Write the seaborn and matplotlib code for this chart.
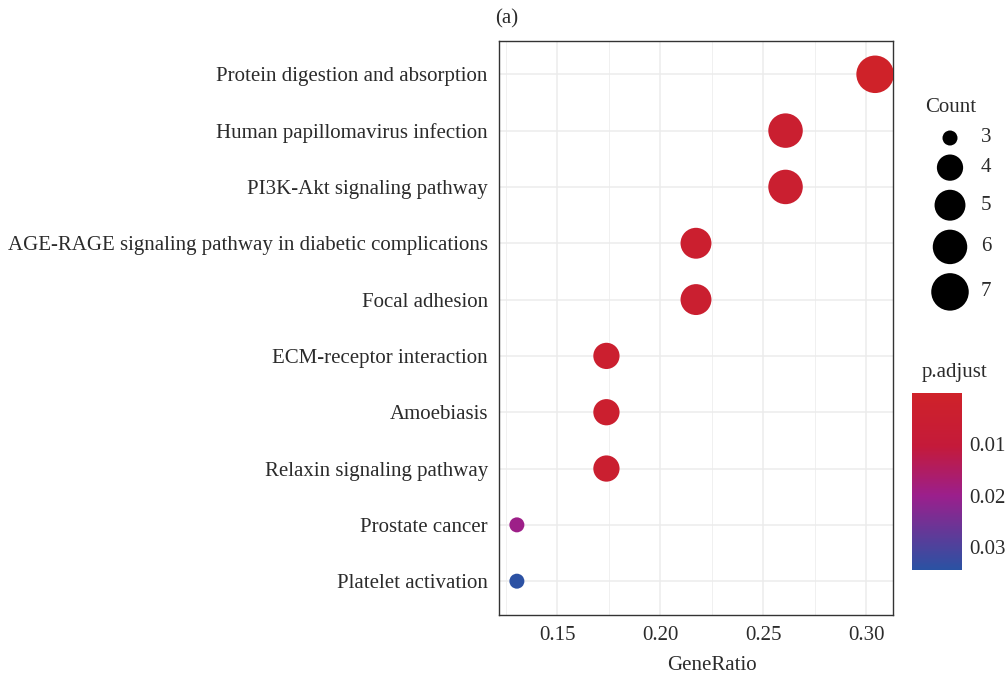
import numpy as np
import pandas as pd
import matplotlib
matplotlib.use("Agg")
import matplotlib.pyplot as plt
from matplotlib.colors import LinearSegmentedColormap, Normalize
from matplotlib.ticker import MultipleLocator
import seaborn as sns

# KEGG enrichment results
pathways = [
    "Protein digestion and absorption",
    "Human papillomavirus infection",
    "PI3K-Akt signaling pathway",
    "AGE-RAGE signaling pathway in diabetic complications",
    "Focal adhesion",
    "ECM-receptor interaction",
    "Amoebiasis",
    "Relaxin signaling pathway",
    "Prostate cancer",
    "Platelet activation",
]
counts = [7, 6, 6, 5, 5, 4, 4, 4, 3, 3]
total_genes = 23
p_adjust = [0.0002, 0.0045, 0.0045, 0.0040, 0.0045, 0.0040, 0.0040, 0.0045, 0.0195, 0.0341]
size_levels = [3, 4, 5, 6, 7]
cbar_ticks = [0.01, 0.02, 0.03]

df = pd.DataFrame({
    "Description": pathways,
    "Count": counts,
    "GeneRatio": [c / total_genes for c in counts],
    "p.adjust": p_adjust,
})

sns.set_theme(style="white")
plt.rcParams["font.family"] = ["Liberation Serif", "DejaVu Serif"]
text_col = "#2b2b2b"
frame_col = "#333333"
fs = 15

cmap = LinearSegmentedColormap.from_list(
    "padj", [(0.0, "#cf2229"), (0.3, "#c41a3a"), (0.58, "#9b1f8c"), (1.0, "#2a52a3")]
)
pmin, pmax = 0.0, 0.0345
norm = Normalize(vmin=pmin, vmax=pmax)

# marker diameter grows with the square root of the rescaled count (pixels)
d_min, d_max = 15.0, 37.5
lo, hi = min(size_levels), max(size_levels)
diam_px = {c: d_min + (d_max - d_min) * np.sqrt((c - lo) / (hi - lo)) for c in size_levels}
area_pt = {c: (d * 0.72) ** 2 for c, d in diam_px.items()}

W, H = 1007, 683
fig = plt.figure(figsize=(W / 100, H / 100), dpi=100)
ax = fig.add_axes([0.4955, 0.0996, 0.3913, 0.8411])

sns.scatterplot(
    data=df, x="GeneRatio", y="Description", hue="p.adjust", size="Count",
    sizes=area_pt, hue_norm=norm, palette=cmap, linewidth=0, legend=False,
    ax=ax, zorder=3,
)

# axis limits with 5% padding on x and 0.6 rows on y
gr = df["GeneRatio"]
span = gr.max() - gr.min()
ax.set_xlim(gr.min() - 0.05 * span, gr.max() + 0.05 * span)
ax.set_ylim(len(pathways) - 1 + 0.6, -0.6)

ax.xaxis.set_minor_locator(MultipleLocator(0.025))
ax.set_xticks([0.15, 0.20, 0.25, 0.30])
ax.set_xticklabels(["0.15", "0.20", "0.25", "0.30"])
ax.grid(which="major", color="#ececec", linewidth=1.1, zorder=0)
ax.grid(which="minor", axis="x", color="#f0f0f0", linewidth=0.7, zorder=0)
ax.set_axisbelow(True)

for s in ax.spines.values():
    s.set_color(frame_col)
    s.set_linewidth(1.0)

ax.tick_params(axis="both", which="major", length=5, width=1, color=frame_col,
               labelcolor=text_col, labelsize=fs, pad=3)
ax.tick_params(axis="both", which="minor", length=0)
ax.set_ylabel("")
ax.set_xlabel("GeneRatio", fontsize=fs, color=text_col)
ax.xaxis.set_label_coords(0.54, -0.072)

fig.text(0.503, 0.972, "(a)", ha="center", va="center", fontsize=fs, color=text_col)

# size legend drawn in its own pixel-based axes
lax = fig.add_axes([905 / W, 1 - 330 / H, 100 / W, 240 / H])
lax.set_xlim(905, 1005)
lax.set_ylim(330, 90)
lax.axis("off")
key_y = [138.0]
for a, b in zip(size_levels[:-1], size_levels[1:]):
    key_y.append(key_y[-1] + (diam_px[a] + diam_px[b]) / 2 + 9)
lax.scatter([950] * len(size_levels), key_y, s=[area_pt[c] for c in size_levels],
            color="black", linewidth=0, clip_on=False)
for c, y in zip(size_levels, key_y):
    lax.text(981, y, str(c), ha="left", va="center", fontsize=fs, color=text_col)
lax.text(951, 108, "Count", ha="center", va="center", fontsize=fs, color=text_col)

# colour bar
cax = fig.add_axes([912 / W, 1 - 570 / H, 50 / W, 177 / H])
sm = plt.cm.ScalarMappable(norm=norm, cmap=cmap)
cbar = fig.colorbar(sm, cax=cax, ticks=cbar_ticks)
cbar.ax.invert_yaxis()
cbar.outline.set_visible(False)
cbar.ax.set_yticklabels([f"{t:.2f}" for t in cbar_ticks])
cbar.ax.tick_params(axis="y", direction="in", left=True, right=True, length=6,
                    width=1, color="white", labelcolor=text_col, labelsize=fs, pad=5)
fig.text(955 / W, 1 - 372 / H, "p.adjust", ha="center", va="center", fontsize=fs,
         color=text_col)

fig.savefig("out.png", dpi=100, facecolor="white")
